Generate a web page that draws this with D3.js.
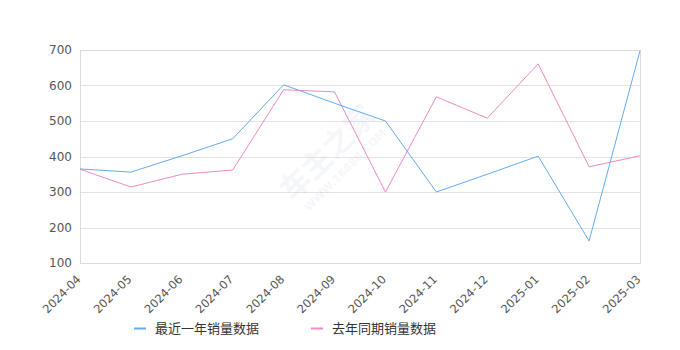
<!DOCTYPE html>
<html>
<head>
<meta charset="utf-8">
<script src="https://cdn.jsdelivr.net/npm/d3@7"></script>
<style>
  body { margin: 0; background: #fff; }
  text { font-family: "DejaVu Sans", "Noto Sans CJK SC", sans-serif; }
</style>
</head>
<body>
<div id="chart"></div>
<script>
// Chart data
const months = ["2024-04", "2024-05", "2024-06", "2024-07", "2024-08", "2024-09",
  "2024-10", "2024-11", "2024-12", "2025-01", "2025-02", "2025-03"];
const recentSales = [365, 356, 402, 450, 602, 550, 500, 300, 350, 401, 162, 698];
const lastYearSales = [364, 314, 350, 362, 588, 582, 300, 568, 508, 661, 371, 402];
const yTicks = [100, 200, 300, 400, 500, 600, 700];
const seriesNames = ["最近一年销量数据", "去年同期销量数据"];
const seriesColors = ["#64abf2", "#f28abd"];

// Dimensions
const margin = { top: 50, right: 40, bottom: 87, left: 80 };
const width = 680 - margin.left - margin.right;
const height = 350 - margin.top - margin.bottom;

const root = d3.select("#chart")
  .append("svg")
  .attr("width", 680)
  .attr("height", 350);

const svg = root.append("g")
  .attr("transform", "translate(" + margin.left + "," + margin.top + ")");

// Scales
const xScale = d3.scalePoint()
  .domain(months)
  .range([0, width]);

const yScale = d3.scaleLinear()
  .domain([100, 700])
  .range([height, 0]);

// Grid lines
svg.append("g")
  .selectAll("line")
  .data(yTicks)
  .enter()
  .append("line")
  .attr("x1", 0)
  .attr("x2", width)
  .attr("y1", function(d) { return Math.round(yScale(d)) + 0.5; })
  .attr("y2", function(d) { return Math.round(yScale(d)) + 0.5; })
  .attr("stroke", "#e3e3e3");

// Plot frame
svg.append("rect")
  .attr("x", 0.5)
  .attr("y", 0.5)
  .attr("width", width)
  .attr("height", height)
  .attr("fill", "none")
  .attr("stroke", "#dcdcdc");

// Watermark
const wm = svg.append("g")
  .attr("transform", "translate(255,110) rotate(-45)")
  .attr("opacity", 0.08);
wm.append("text")
  .attr("text-anchor", "middle")
  .attr("font-size", 30)
  .attr("font-weight", "bold")
  .attr("fill", "#8a9bc0")
  .text("车主之家");
wm.append("text")
  .attr("y", 18)
  .attr("text-anchor", "middle")
  .attr("font-size", 11)
  .attr("font-weight", "bold")
  .attr("fill", "#8a9bc0")
  .text("WWW.16888.COM");

// Axes
const yAxis = d3.axisLeft(yScale).tickValues(yTicks).tickSize(0).tickPadding(8);
const gy = svg.append("g").call(yAxis);
gy.select(".domain").remove();
gy.selectAll("text")
  .attr("font-size", 12)
  .attr("fill", "#555");

const xAxis = d3.axisBottom(xScale).tickSize(0).tickPadding(0);
const gx = svg.append("g")
  .attr("transform", "translate(0," + height + ")")
  .call(xAxis);
gx.select(".domain").remove();
gx.selectAll("text")
  .attr("font-size", 11.5)
  .attr("fill", "#555")
  .attr("text-anchor", "end")
  .attr("dy", 0)
  .attr("transform", "translate(1,17) rotate(-45)");

// Lines
const line = d3.line()
  .x(function(d, i) { return xScale(months[i]); })
  .y(function(d) { return yScale(d); });

[lastYearSales, recentSales].forEach(function(series, k) {
  svg.append("path")
    .datum(series)
    .attr("fill", "none")
    .attr("stroke", seriesColors[1 - k])
    .attr("stroke-width", 1)
    .attr("d", line);
});

// Legend
const legendX = [134, 311];
const legend = root.append("g");
seriesNames.forEach(function(name, i) {
  legend.append("line")
    .attr("x1", legendX[i])
    .attr("x2", legendX[i] + 12)
    .attr("y1", 328.5)
    .attr("y2", 328.5)
    .attr("stroke", seriesColors[i])
    .attr("stroke-width", 2);
  legend.append("text")
    .attr("x", legendX[i] + 21)
    .attr("y", 333)
    .attr("font-size", 13)
    .attr("fill", "#333")
    .text(name);
});
</script>
</body>
</html>
